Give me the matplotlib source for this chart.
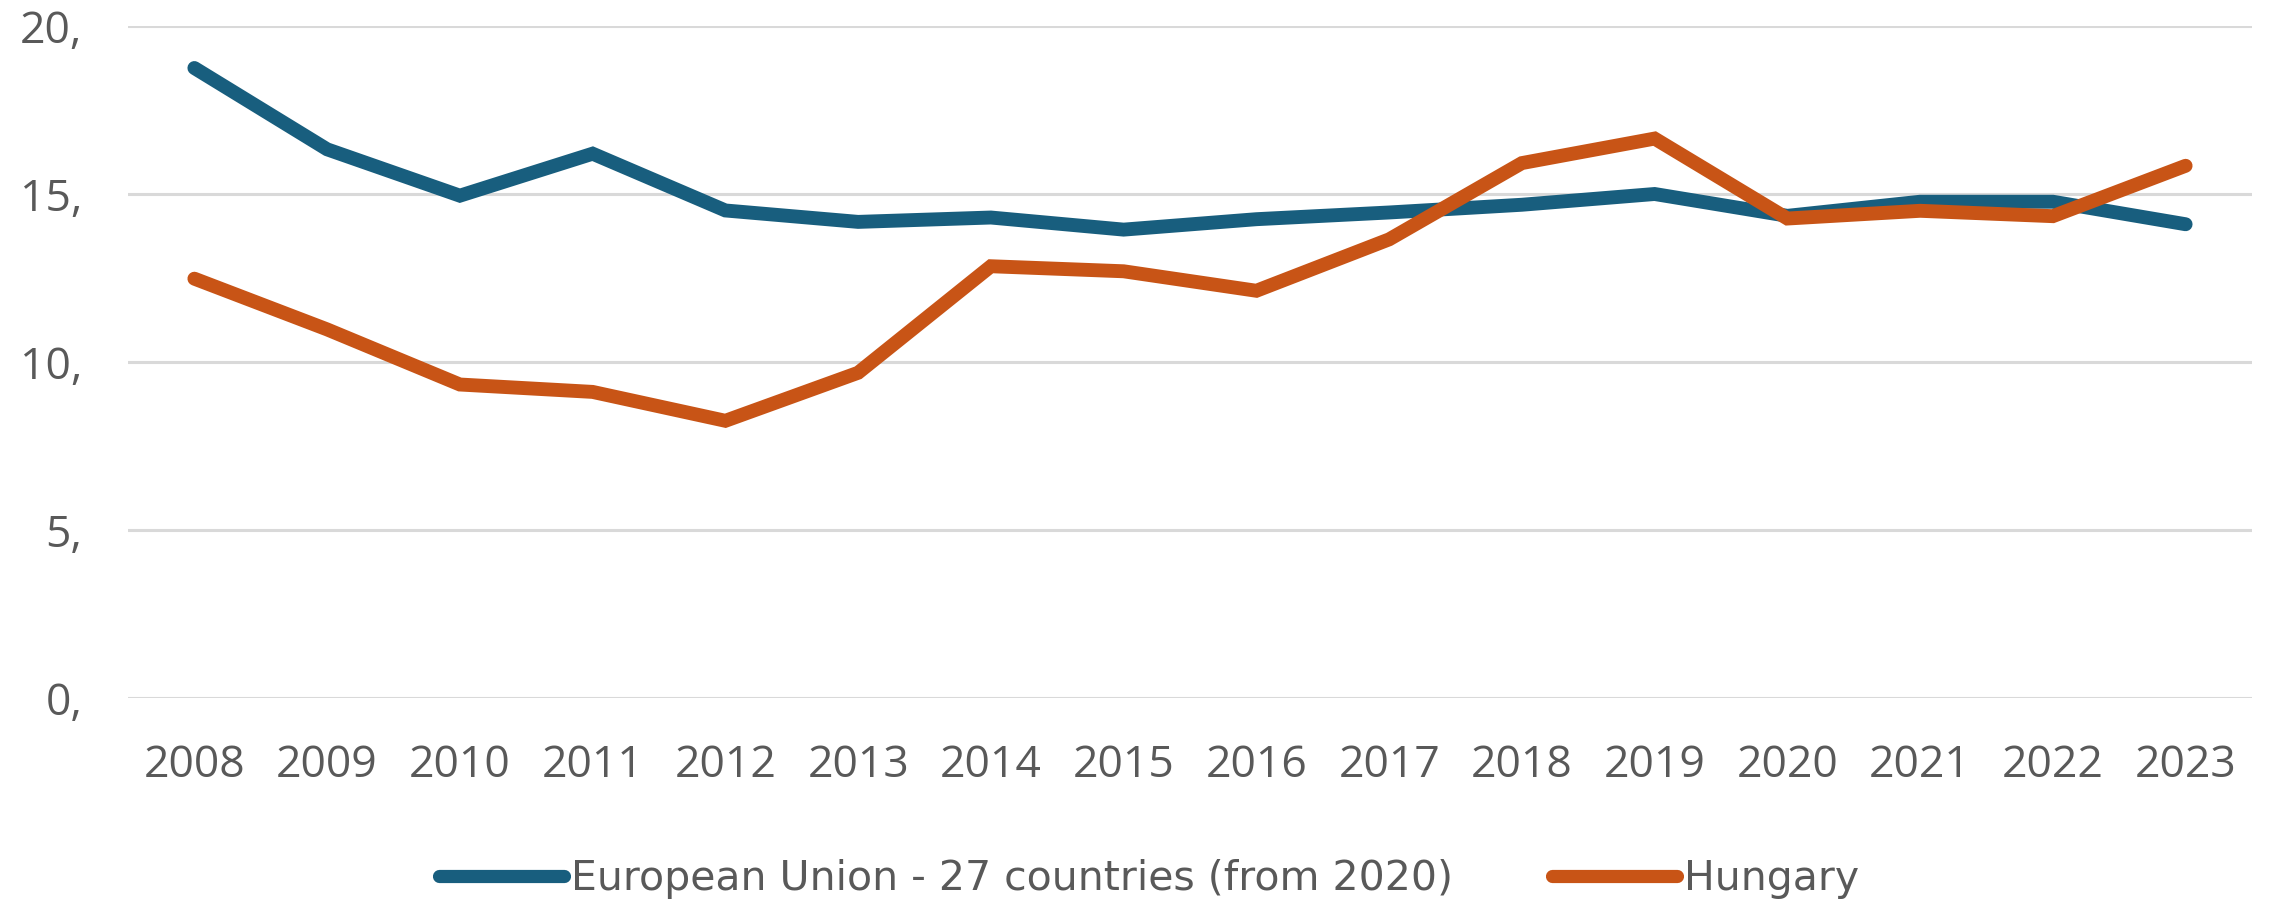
import matplotlib
matplotlib.use("Agg")
import matplotlib.pyplot as plt

years = ["2008", "2009", "2010", "2011", "2012", "2013", "2014", "2015",
         "2016", "2017", "2018", "2019", "2020", "2021", "2022", "2023"]
eu27 = [18.75, 16.33, 14.95, 16.2, 14.51, 14.17, 14.3, 13.94,
        14.25, 14.45, 14.68, 15.0, 14.35, 14.77, 14.77, 14.1]
hungary = [12.48, 10.97, 9.33, 9.11, 8.25, 9.68, 12.85, 12.7,
           12.12, 13.65, 15.92, 16.65, 14.27, 14.5, 14.34, 15.84]
series_names = ["European Union - 27 countries (from 2020)", "Hungary"]
y_ticks = [0, 5, 10, 15, 20]
y_tick_labels = ["0,", "5,", "10,", "15,", "20,"]

W, H = 2277, 906
fig = plt.figure(figsize=(W / 100, H / 100), dpi=100)
ax = fig.add_axes([128 / W, 1 - 698 / H, (2252 - 128) / W, (698 - 26) / H])

blue = "#185E7E"
orange = "#C85416"
x = list(range(len(years)))
ax.plot(x, eu27, color=blue, lw=10, solid_capstyle="round", solid_joinstyle="miter",
        label=series_names[0], zorder=3)
ax.plot(x, hungary, color=orange, lw=10, solid_capstyle="round", solid_joinstyle="miter",
        label=series_names[1], zorder=3)

ax.set_xlim(-0.5, len(years) - 0.5)
ax.set_ylim(0, 20)
ax.set_yticks(y_ticks)
ax.set_yticklabels(y_tick_labels)
ax.set_xticks(x)
ax.set_xticklabels(years)
for s in ax.spines.values():
    s.set_visible(False)
ax.grid(axis="y", color="#D9D9D9", lw=2.2, zorder=0)
ax.tick_params(axis="both", length=0, labelsize=32, labelcolor="#595959")
ax.tick_params(axis="x", pad=33)
ax.tick_params(axis="y", pad=33)
for lab in ax.get_xticklabels() + ax.get_yticklabels():
    lab.set_family("Open Sans")

leg = fig.legend(loc="center", bbox_to_anchor=(1149 / W, 1 - 879 / H), ncol=2,
                 frameon=False, handlelength=3.05, handletextpad=0.17,
                 columnspacing=2.4, prop={"family": "DejaVu Sans", "size": 29.5})
for t in leg.get_texts():
    t.set_color("#595959")
for h in leg.get_lines():
    h.set_linewidth(9.5)

fig.savefig("out.png", dpi=100)
